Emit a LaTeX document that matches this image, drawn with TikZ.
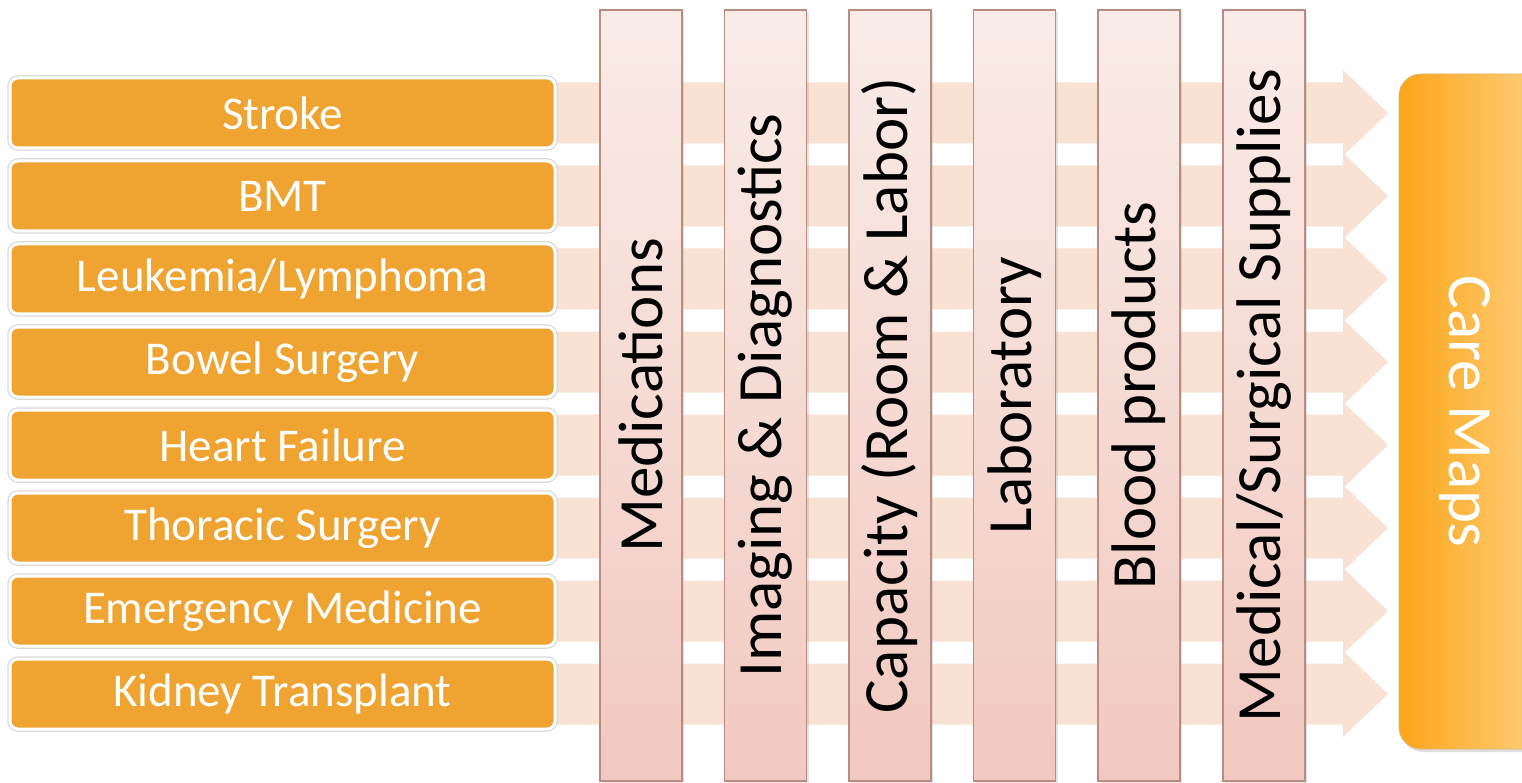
\documentclass[tikz,border=0pt]{standalone}
\usepackage{fontspec}
\setmainfont{Carlito}
\usetikzlibrary{shadows}
\definecolor{boxor}{RGB}{239,163,48}
\definecolor{bandc}{RGB}{249,226,212}
\definecolor{coltop}{RGB}{249,236,232}
\definecolor{colbot}{RGB}{241,201,192}
\definecolor{colbd}{RGB}{185,140,130}
\definecolor{cmL}{RGB}{252,166,26}
\definecolor{cmR}{RGB}{253,208,128}
\begin{document}
\begin{tikzpicture}[x=1pt,y=-1pt,
  rowbox/.style={rounded corners=8pt, fill=boxor, draw=white, line width=3pt,
    preaction={draw=black!15, line width=5.5pt},
    minimum width=545pt, minimum height=70pt, text=white,
    font=\fontsize{47}{56}\selectfont, inner sep=0pt},
  colbox/.style={top color=coltop, bottom color=colbot, draw=colbd, line width=1.5pt,
    minimum width=82pt, minimum height=771pt, inner sep=0pt,
    drop shadow={opacity=0.2, shadow xshift=2pt, shadow yshift=-2pt}},
  collabel/.style={rotate=90, font=\fontsize{63}{70}\selectfont, text=black, inner sep=0pt},
  band/.style={fill=bandc},
  target/.style={rounded corners=22pt, left color=cmL, right color=cmR, draw=cmL!80!black!60, line width=0.8pt,
    minimum width=150pt, minimum height=675pt, inner sep=0pt,
    drop shadow={opacity=0.25, shadow xshift=2pt, shadow yshift=-3pt}},
  tlabel/.style={rotate=-90, font=\fontsize{63}{70}\selectfont, text=white, inner sep=0pt}
]
\clip (0,0) rectangle (1522,783);
\fill[white] (0,0) rectangle (1522,783);

% arrow bands
\foreach \i/\y in {1/113,2/196,3/279,4/362,5/445,6/528,7/611,8/694}{
  \fill[band] (545,\y-30.5) -- (1343,\y-30.5) -- (1343,\y-43) -- (1388,\y)
     -- (1343,\y+43) -- (1343,\y+30.5) -- (545,\y+30.5) -- cycle;
}

% row boxes
\node[rowbox] (b1) at (282.5,113) {Stroke};
\node[rowbox] (b2) at (282.5,196) {BMT};
\node[rowbox] (b3) at (282.5,279) {Leukemia/Lymphoma};
\node[rowbox] (b4) at (282.5,362) {Bowel Surgery};
\node[rowbox] (b5) at (282.5,445) {Heart Failure};
\node[rowbox] (b6) at (282.5,528) {Thoracic Surgery};
\node[rowbox] (b7) at (282.5,611) {Emergency Medicine};
\node[rowbox] (b8) at (282.5,694) {Kidney Transplant};

% columns
\node[colbox] (c1) at (641,395.5) {};
\node[colbox] (c2) at (765.5,395.5) {};
\node[colbox] (c3) at (890,395.5) {};
\node[colbox] (c4) at (1014.5,395.5) {};
\node[colbox] (c5) at (1139,395.5) {};
\node[colbox] (c6) at (1264,395.5) {};
\node[collabel] (l1) at (c1) {Medications};
\node[collabel] (l2) at (c2) {Imaging \& Diagnostics};
\node[collabel] (l3) at (c3) {Capacity (Room \& Labor)};
\node[collabel] (l4) at (c4) {Laboratory};
\node[collabel] (l5) at (c5) {Blood products};
\node[collabel] (l6) at (c6) {Medical/Surgical Supplies};

% target
\node[target] (cm) at (1474,411.5) {};
\node[tlabel] (cml) at (1465,411.5) {Care Maps};
\end{tikzpicture}
\end{document}
